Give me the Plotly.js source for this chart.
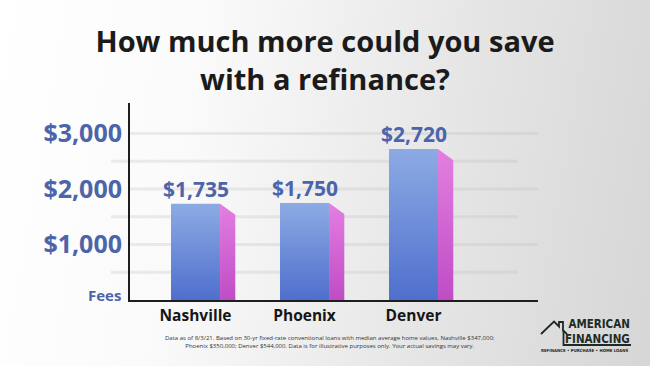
<!DOCTYPE html>
<html>
<head>
<meta charset="utf-8">
<script src="https://cdn.plot.ly/plotly-3.0.1.min.js"></script>
<style>
html,body{margin:0;padding:0;}
body{width:650px;height:366px;background:linear-gradient(100deg,#ffffff 0%,#fafafa 30%,#e4e4e4 70%,#d6d6d6 100%);overflow:hidden;}
#chart{width:650px;height:366px;}
</style>
</head>
<body>
<div id="chart"></div>
<script>
// ---- data ----
const cities = ["Nashville", "Phoenix", "Denver"];
const savings = [1735, 1750, 2720];
const valueLabels = ["$1,735", "$1,750", "$2,720"];
const yTickVals = [1000, 2000, 3000];
const yTickText = ["$1,000", "$2,000", "$3,000"];
const yAxisLabel = "Fees";
const gridVals = [500, 1000, 1500, 2000, 2500, 3000];
const titleText = "How much more could you save<br>with a refinance?";
const footnote = "Data as of 8/3/21. Based on 30-yr fixed-rate conventional loans with median average home values. Nashville $347,000;<br>Phoenix $350,000; Denver $544,000. Data is for illustrative purposes only. Your actual savings may vary.";
const logoName = "AMERICAN<br>FINANCING";
const logoTagline = "REFINANCE • PURCHASE • HOME LOANS";

// ---- layout geometry ----
const W = 650, H = 366;
const M = {l: 130, r: 112, t: 103, b: 66};
const PW = W - M.l - M.r, PH = H - M.t - M.b;
const px2x = p => (p - M.l) / PW;       // pixel -> paper x
const py2y = p => (H - M.b - p) / PH;   // pixel -> paper y

const halfW = 0.225, sideW = 0.14, sideDrop = 200;
const blue = "#4f6fcd", blueLight = "#8cabe4";
const pinkDark = "#bf4cc4", pinkLight = "#e47fe2";
const labelBlue = "#4b64aa";
const logoColor = "#1e2b22";

const traces = [];
cities.forEach((c, i) => {
  const v = savings[i];
  traces.push({
    type: "scatter", mode: "lines", hoverinfo: "skip", showlegend: false,
    x: [i - halfW, i + halfW, i + halfW, i - halfW, i - halfW],
    y: [0, 0, v, v, 0],
    fill: "toself", line: {width: 0, color: blue},
    fillcolor: blue,
    fillgradient: {type: "vertical", colorscale: [[0, blue], [1, blueLight]]}
  });
  traces.push({
    type: "scatter", mode: "lines", hoverinfo: "skip", showlegend: false,
    x: [i + halfW, i + halfW + sideW, i + halfW + sideW, i + halfW, i + halfW],
    y: [0, 0, v - sideDrop, v, 0],
    fill: "toself", line: {width: 0, color: pinkDark},
    fillcolor: pinkDark,
    fillgradient: {type: "vertical", colorscale: [[0, pinkDark], [1, pinkLight]]}
  });
});

const shapes = gridVals.map(g => {
  const long = (g % 1000 === 0);
  return {
    type: "line", layer: "below", xref: "paper", yref: "y",
    x0: long ? 0 : px2x(111), x1: long ? 1 : px2x(518),
    y0: g, y1: g,
    line: {color: "rgba(185,185,185,0.25)", width: 3}
  };
});

// logo: house outline
const housePts = [[541,334],[554,321.5],[559,326.5],[559,322],[563,322],[563,330.5],[567,334]];
const toPath = pts => pts.map((p, k) => (k ? "L" : "M") + px2x(p[0]) + "," + py2y(p[1])).join(" ");
shapes.push({type: "path", xref: "paper", yref: "paper", path: toPath(housePts), line: {color: logoColor, width: 1.8}});
shapes.push({type: "path", xref: "paper", yref: "paper", path: toPath([[563.5,330],[563.5,345],[631,345]]), line: {color: logoColor, width: 1.8}});

const annotations = [];
cities.forEach((c, i) => {
  annotations.push({
    x: i, y: savings[i], xref: "x", yref: "y", text: valueLabels[i],
    showarrow: false, yanchor: "bottom", yshift: -1,
    font: {family: "Open Sans", size: 21, weight: 700, color: labelBlue}
  });
});
annotations.push({
  xref: "paper", yref: "paper", x: px2x(123), y: py2y(295), xanchor: "right", yanchor: "middle",
  text: yAxisLabel, showarrow: false,
  font: {family: "Open Sans", size: 15, weight: 700, color: labelBlue}
});
annotations.push({
  xref: "paper", yref: "paper", x: px2x(330), y: py2y(342), xanchor: "center", yanchor: "middle",
  text: footnote, showarrow: false, align: "center",
  font: {family: "Open Sans", size: 6.0, color: "#333"}
});
annotations.push({
  xref: "paper", yref: "paper", x: px2x(631), y: py2y(331.5), xanchor: "right", yanchor: "middle",
  text: logoName, showarrow: false, borderpad: 0, align: "right",
  font: {family: "DejaVu Sans Condensed", size: 11.5, weight: 700, color: logoColor}
});
annotations.push({
  xref: "paper", yref: "paper", x: px2x(584), y: py2y(350), xanchor: "center", yanchor: "middle",
  text: logoTagline, showarrow: false, borderpad: 0,
  font: {family: "DejaVu Sans Condensed", size: 4.3, weight: 700, color: logoColor}
});

const layout = {
  width: W, height: H,
  margin: M,
  paper_bgcolor: "rgba(0,0,0,0)", plot_bgcolor: "rgba(0,0,0,0)",
  showlegend: false,
  title: {
    text: titleText, x: 0.5, xref: "container", xanchor: "center",
    y: 1 - 52 / H, yref: "container", yanchor: "middle",
    font: {family: "Open Sans", size: 29, weight: 700, color: "#1b1b1b"}
  },
  xaxis: {
    range: [-0.601, 3.142], fixedrange: true,
    tickvals: [0, 1, 2], ticktext: cities,
    showgrid: false, zeroline: false,
    showline: true, linecolor: "#1e1e1e", linewidth: 2,
    ticks: "", tickfont: {family: "Open Sans", size: 15.5, weight: 700, color: "#161616"}
  },
  yaxis: {
    range: [0, 3550], fixedrange: true,
    tickvals: yTickVals, ticktext: yTickText,
    showgrid: false, zeroline: false,
    showline: true, linecolor: "#1e1e1e", linewidth: 2,
    ticks: "", ticklabelstandoff: 1,
    tickfont: {family: "Open Sans", size: 25, weight: 700, color: labelBlue}
  },
  shapes: shapes,
  annotations: annotations
};

Plotly.newPlot("chart", traces, layout, {displayModeBar: false, staticPlot: true});
</script>
</body>
</html>
